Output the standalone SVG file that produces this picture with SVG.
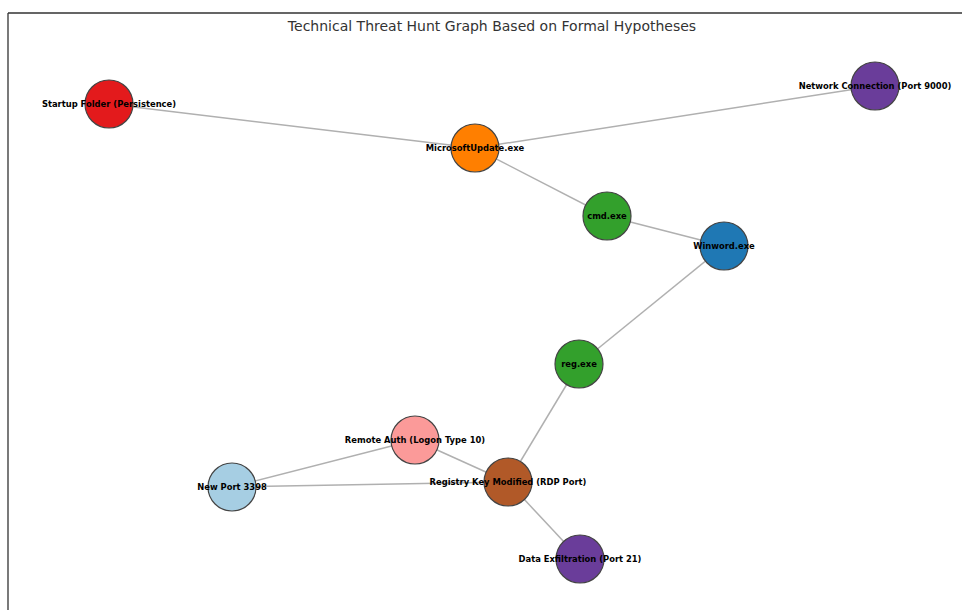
<svg xmlns="http://www.w3.org/2000/svg" width="962" height="610" viewBox="0 0 962 610">
<style>
.edge{stroke:#b0b0b0;stroke-width:1.5;fill:none}
.node circle{stroke:#444;stroke-width:1.2}
.node text{font-family:"DejaVu Sans",sans-serif;font-weight:bold;font-size:8.4px;fill:#000;text-anchor:middle;dominant-baseline:central}
.title{font-family:"DejaVu Sans",sans-serif;font-size:14px;fill:#333;text-anchor:middle}
</style>
<rect width="962" height="610" fill="#fff"/>
<path d="M8,13 H962 M8,13 V610" stroke="#333" stroke-width="1.3" fill="none"/>
<text class="title" x="492" y="31">Technical Threat Hunt Graph Based on Formal Hypotheses</text>
<g id="edges">
<line class="edge" x1="109" y1="104" x2="475" y2="148"/>
<line class="edge" x1="875" y1="86" x2="475" y2="148"/>
<line class="edge" x1="475" y1="148" x2="607" y2="216"/>
<line class="edge" x1="607" y1="216" x2="724" y2="246"/>
<line class="edge" x1="724" y1="246" x2="579" y2="364"/>
<line class="edge" x1="579" y1="364" x2="508" y2="482"/>
<line class="edge" x1="415" y1="440" x2="232" y2="487"/>
<line class="edge" x1="415" y1="440" x2="508" y2="482"/>
<line class="edge" x1="232" y1="487" x2="508" y2="482"/>
<line class="edge" x1="508" y1="482" x2="580" y2="559"/>
</g>
<g id="n-startup" class="node"><circle cx="109" cy="104" r="24" fill="#e31a1c"/><text x="109" y="104">Startup Folder (Persistence)</text></g>
<g id="n-network" class="node"><circle cx="875" cy="86" r="24" fill="#6a3d9a"/><text x="875" y="86">Network Connection (Port 9000)</text></g>
<g id="n-msupdate" class="node"><circle cx="475" cy="148" r="24" fill="#ff7f00"/><text x="475" y="148">MicrosoftUpdate.exe</text></g>
<g id="n-cmd" class="node"><circle cx="607" cy="216" r="24" fill="#33a02c"/><text x="607" y="216">cmd.exe</text></g>
<g id="n-winword" class="node"><circle cx="724" cy="246" r="24" fill="#1f78b4"/><text x="724" y="246">Winword.exe</text></g>
<g id="n-reg" class="node"><circle cx="579" cy="364" r="24" fill="#33a02c"/><text x="579" y="364">reg.exe</text></g>
<g id="n-remoteauth" class="node"><circle cx="415" cy="440" r="24" fill="#fb9a99"/><text x="415" y="440">Remote Auth (Logon Type 10)</text></g>
<g id="n-newport" class="node"><circle cx="232" cy="487" r="24" fill="#a6cee3"/><text x="232" y="487">New Port 3398</text></g>
<g id="n-regkey" class="node"><circle cx="508" cy="482" r="24" fill="#b15928"/><text x="508" y="482">Registry Key Modified (RDP Port)</text></g>
<g id="n-exfil" class="node"><circle cx="580" cy="559" r="24" fill="#6a3d9a"/><text x="580" y="559">Data Exfiltration (Port 21)</text></g>
</svg>
